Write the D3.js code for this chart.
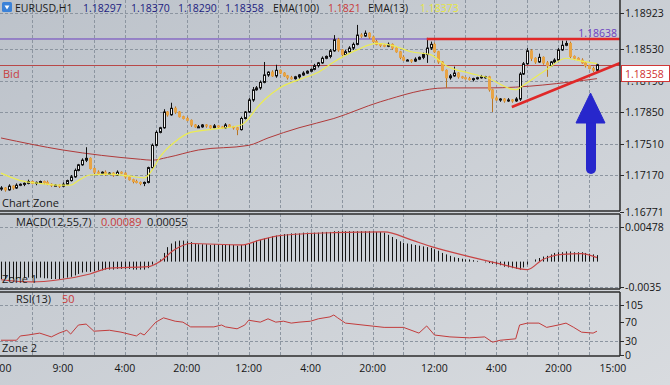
<!DOCTYPE html>
<html>
<head>
<meta charset="utf-8">
<script src="https://cdn.jsdelivr.net/npm/d3@7"></script>
<style>
html, body { margin: 0; padding: 0; background: #c8ccd2; }
svg { display: block; font-family: "Open Sans", "Noto Sans", sans-serif; }
</style>
</head>
<body>
<div id="chart"></div>
<script>
// ---- datos (EURUSD H1) ----
const firstOpen = 1.1702
const closes = [
  1.1703,1.1701,1.1705,1.1703,1.1706,1.1707,1.1708,1.1710,1.1708,1.1709,
  1.1710,1.1709,1.1707,1.1706,1.1706,1.1705,1.1707,1.1711,1.1715,1.1722,
  1.1728,1.1733,1.1735,1.1724,1.1720,1.1719,1.1720,1.1718,1.1719,1.1717,
  1.1720,1.1719,1.1715,1.1712,1.1710,1.1709,1.1708,1.1709,1.1725,1.1749,
  1.1763,1.1768,1.1785,1.1782,1.1789,1.1785,1.1780,1.1778,1.1776,1.1771,
  1.1769,1.1769,1.1771,1.1770,1.1768,1.1770,1.1769,1.1768,1.1771,1.1769,
  1.1768,1.1766,1.1778,1.1785,1.1798,1.1809,1.1811,1.1817,1.1825,1.1828,
  1.1824,1.1830,1.1827,1.1824,1.1822,1.1821,1.1823,1.1825,1.1827,1.1829,
  1.1831,1.1835,1.1838,1.1843,1.1845,1.1851,1.1863,1.1852,1.1847,1.1850,
  1.1854,1.1858,1.1868,1.1867,1.1870,1.1866,1.1861,1.1858,1.1857,1.1856,
  1.1858,1.1854,1.1850,1.1844,1.1841,1.1841,1.1840,1.1842,1.1844,1.1847,
  1.1854,1.1858,1.1850,1.1839,1.1830,1.1822,1.1824,1.1827,1.1823,1.1822,
  1.1821,1.1820,1.1821,1.1822,1.1823,1.1823,1.1809,1.1800,1.1798,1.1799,
  1.1797,1.1798,1.1797,1.1799,1.1826,1.1837,1.1851,1.1843,1.1839,1.1844,
  1.1838,1.1835,1.1839,1.1841,1.1852,1.1857,1.1859,1.1845,1.1843,1.1841,
  1.1838,1.1835,1.1832,1.1830,1.1836
]
// mechas en pips por encima / debajo del cuerpo
const wickUp = [
  2,1,2,1,2,1,1,2,1,1, 1,1,2,1,1,1,2,1,2,2, 1,2,12,1,1,2,1,2,1,1, 2,1,1,1,1,2,1,1,1,2,
  2,1,3,1,6,2,1,1,2,1, 1,2,1,1,1,2,1,1,2,1, 1,1,2,1,2,3,2,2,14,1, 2,6,1,1,1,2,1,1,2,1,
  1,2,1,2,1,2,5,2,1,2, 2,2,11,2,3,1,1,2,1,1, 2,1,1,1,2,1,1,2,1,2, 11,3,2,1,1,1,2,7,1,1,
  1,2,1,1,2,1,1,1,2,1, 1,2,1,2,2,2,3,2,1,4, 1,2,1,2,2,5,3,2,1,1, 2,1,1,2,1
]
const wickDn = [
  2,2,1,2,1,1,2,1,1,2, 1,2,1,2,1,2,1,1,1,1, 1,1,2,1,2,1,1,2,1,2, 1,1,2,1,2,1,2,3,1,1,
  1,1,1,2,1,2,1,1,1,2, 1,1,1,2,1,1,2,1,1,1, 2,6,1,1,1,2,1,2,1,2, 1,2,1,1,2,1,1,2,1,1,
  1,1,2,1,1,2,1,2,2,1, 1,2,1,2,1,2,1,1,2,1, 1,2,1,2,1,1,2,1,1,2, 9,2,1,2,1,11,2,1,2,1,
  1,1,2,1,1,2,2,15,1,2, 2,1,2,1,2,1,1,3,2,1, 2,12,1,2,1,1,1,2,2,1, 1,2,1,2,1
]
const ema100Bar = [0,16,36,39,43,51,64,69,77,86,98,115,126,154]
const ema100Val = [1.1757,1.1744,1.1734,1.1733,1.1736,1.1744,1.1749,1.1757,1.1768,1.1778,1.1796,1.1811,1.1811,1.1821]
const ema13Bar = [0,5,10,15,18,20,23,28,33,37,39,41,45,49,54,62,64,66,68,72,77,82,86,92,97,101,106,111,115,121,125,133,135,141,146,150,154]
const ema13Val = [1.1719,1.1711,1.1708,1.1706,1.1706,1.1711,1.1717,1.1718,1.1716,1.1714,1.1722,1.1736,1.1753,1.1763,1.1766,1.1771,1.1778,1.1789,1.1798,1.1811,1.1820,1.1828,1.1839,1.1852,1.1859,1.1857,1.1850,1.1847,1.1835,1.1827,1.1823,1.1809,1.1814,1.1831,1.1843,1.1840,1.18373]

const macdHist = [
  -0.0024,-0.0024,-0.0025,-0.0024,-0.0024,-0.0023,-0.0023,-0.0022,-0.0023,-0.0023,
  -0.0022,-0.0023,-0.0023,-0.0024,-0.0024,-0.0024,-0.0023,-0.0022,-0.0021,-0.0019,
  -0.0017,-0.0015,-0.0014,-0.0014,-0.0013,-0.0012,-0.0012,-0.0011,-0.0011,-0.0011,
  -0.0010,-0.0010,-0.0010,-0.0010,-0.0011,-0.0011,-0.0011,-0.0011,-0.0009,-0.0004,
  0.0000,0.0003,0.0012,0.0020,0.0025,0.0028,0.0029,0.0029,0.0028,0.0027,
  0.0025,0.0024,0.0024,0.0024,0.0023,0.0024,0.0024,0.0023,0.0023,0.0024,
  0.0023,0.0022,0.0023,0.0024,0.0025,0.0027,0.0029,0.0030,0.0032,0.0033,
  0.0035,0.0036,0.0037,0.0038,0.0038,0.0039,0.0039,0.0039,0.0040,0.0040,
  0.0040,0.0040,0.0040,0.0041,0.0041,0.0041,0.0042,0.0042,0.0042,0.0042,
  0.0042,0.0042,0.0042,0.0042,0.0042,0.0042,0.0042,0.0041,0.0041,0.0040,
  0.0037,0.0034,0.0031,0.0028,0.0026,0.0025,0.0024,0.0023,0.0022,0.0021,
  0.0020,0.0019,0.0017,0.0015,0.0012,0.0010,0.0008,0.0006,0.0005,0.0004,
  0.0003,0.0003,0.0002,0.0001,0.0000,-0.0001,-0.0002,-0.0003,-0.0004,-0.0005,
  -0.0007,-0.0008,-0.0009,-0.0010,-0.0011,-0.0008,-0.0004,0.0000,0.0003,0.0005,
  0.0007,0.0008,0.0010,0.0012,0.0013,0.0013,0.0014,0.0014,0.0013,0.0013,
  0.0013,0.0012,0.0011,0.0010,0.0009
]
const signalBar = [0,8,15,23,28,38,41,45,49,62,67,72,86,99,106,111,121,129,136,140,145,150,154]
const signalVal = [-0.0025,-0.0028,-0.0025,-0.0017,-0.0009,-0.0007,0,0.0017,0.0025,0.0023,0.0030,0.0036,0.0040,0.0041,0.0030,0.0021,0.0007,-0.0003,-0.0011,0.0003,0.0010,0.0011,0.00055]

const rsiBar = [0,4,5,7,10,13,15,17,18,20,22,24,28,31,35,36,37,40,42,45,47,49,55,57,58,61,63,64,67,69,71,73,75,77,80,82,85,86,87,89,99,104,108,110,112,116,121,125,127,129,133,134,136,139,141,144,146,148,150,153,154]
const rsiVal = [31,31,40,42,46,38,46,52,44,63,65,50,52,48,40,46,42,69,78,71,69,59,59,63,59,55,63,73,69,76,69,71,67,69,71,76,80,84,78,67,58,58,46,61,42,38,36,38,27,31,34,63,67,67,58,63,67,58,48,46,50]

const priceTicks = [1.18923, 1.18530, 1.18190, 1.17850, 1.17510, 1.17170, 1.16771]
const macdTicks = [0.00478, -0.0035]
const rsiTicks = [105, 70, 30, 0]
const timeBars = [0,16,32,48,64,80,96,112,128,144,160]
const timeLabels = ["0:00","9:00","4:00","20:00","12:00","4:00","20:00","12:00","4:00","20:00","15:00"]

const lineaResistencia = 1.18638
const precioBid = 1.18358
const tendencia = [[132, 1.17904], [160, 1.18379]]

// ---- tamaño y escalas ----
const ancho = 670
const alto = 385
const bordeDer = 620

const x = d3.scaleLinear().domain([0, 160]).range([1, 620.2])
const yMain = d3.scaleLinear().domain([1.16771, 1.18530]).range([212, 49])
const yMacd = d3.scaleLinear().domain([-0.0035, 0.00478]).range([287, 227])
const yRsi = d3.scaleLinear().domain([0, 105]).range([355, 305])

const panel = {
  main: {top: 0, bottom: 211},
  macd: {top: 214, bottom: 289},
  rsi: {top: 292, bottom: 356}
}

const svg = d3.select("#chart").append("svg").attr("width", ancho).attr("height", alto)

const defs = svg.append("defs")
const grad = defs.append("linearGradient").attr("id", "fondo").attr("x1", 0).attr("y1", 0).attr("x2", 1).attr("y2", 1)
grad.append("stop").attr("offset", "0%").attr("stop-color", "#bcc2ca")
grad.append("stop").attr("offset", "100%").attr("stop-color", "#d8dbdf")
svg.append("rect").attr("width", ancho).attr("height", alto).attr("fill", "url(#fondo)")

Object.entries(panel).forEach(([k, p]) => {
  defs.append("clipPath").attr("id", "clip-" + k)
    .append("rect").attr("x", 0).attr("y", p.top).attr("width", bordeDer).attr("height", p.bottom - p.top)
})

// rejilla
const rejilla = svg.append("g").attr("stroke", "#8c95a0").attr("stroke-width", 1).attr("stroke-dasharray", "3,2")
const vLines = d3.range(8, 160, 8)
Object.values(panel).forEach(p => {
  rejilla.selectAll(null).data(vLines).enter().append("line")
    .attr("x1", d => Math.round(x(d)) + 0.5).attr("x2", d => Math.round(x(d)) + 0.5)
    .attr("y1", p.top).attr("y2", p.bottom)
})
rejilla.selectAll(null).data(priceTicks.slice(0, 6)).enter().append("line")
  .attr("x1", 0).attr("x2", bordeDer)
  .attr("y1", d => Math.round(yMain(d)) + 0.5).attr("y2", d => Math.round(yMain(d)) + 0.5)
rejilla.selectAll(null).data(macdTicks).enter().append("line")
  .attr("x1", 0).attr("x2", bordeDer)
  .attr("y1", d => Math.round(yMacd(d)) + 0.5).attr("y2", d => Math.round(yMacd(d)) + 0.5)
rejilla.selectAll(null).data([105, 30]).enter().append("line")
  .attr("x1", 0).attr("x2", bordeDer)
  .attr("y1", d => Math.round(yRsi(d)) + 0.5).attr("y2", d => Math.round(yRsi(d)) + 0.5)

// ---- panel principal ----
const gMain = svg.append("g").attr("clip-path", "url(#clip-main)")

gMain.append("line").attr("x1", 0).attr("x2", bordeDer)
  .attr("y1", yMain(lineaResistencia)).attr("y2", yMain(lineaResistencia))
  .attr("stroke", "#6b3fc0").attr("stroke-width", 1)
gMain.append("line").attr("x1", 0).attr("x2", bordeDer)
  .attr("y1", Math.round(yMain(precioBid)) + 0.5).attr("y2", Math.round(yMain(precioBid)) + 0.5)
  .attr("stroke", "#b84848").attr("stroke-width", 1)

const lineaEma = (bars, vals) => d3.line().curve(d3.curveMonotoneX)
  .x((d, i) => x(bars[i])).y(d => yMain(d))(vals)

gMain.append("path").attr("d", lineaEma(ema100Bar, ema100Val))
  .attr("fill", "none").attr("stroke", "#b03a3a").attr("stroke-width", 1)

const velas = closes.map((c, i) => {
  const o = i === 0 ? firstOpen : closes[i - 1]
  return {
    i: i, o: o, c: c,
    h: Math.max(o, c) + wickUp[i] * 0.0001,
    l: Math.min(o, c) - wickDn[i] * 0.0001
  }
})

const gVelas = gMain.append("g")
velas.forEach(d => {
  const cx = Math.round(x(d.i))
  const alcista = d.c >= d.o
  gVelas.append("line")
    .attr("x1", cx + 0.5).attr("x2", cx + 0.5)
    .attr("y1", yMain(d.h)).attr("y2", yMain(d.l))
    .attr("stroke", alcista ? "#111" : "#b87524").attr("stroke-width", 1)
  const yTop = yMain(Math.max(d.o, d.c))
  const hCuerpo = Math.max(1, Math.abs(yMain(d.o) - yMain(d.c)))
  if (alcista) {
    gVelas.append("rect")
      .attr("x", cx - 0.5).attr("y", yTop).attr("width", 2).attr("height", hCuerpo)
      .attr("fill", "#f2f2f2").attr("stroke", "#111").attr("stroke-width", 1)
  } else {
    gVelas.append("rect")
      .attr("x", cx - 1).attr("y", yTop - 0.5).attr("width", 3).attr("height", hCuerpo + 1)
      .attr("fill", "#e8a445").attr("stroke", "none")
  }
})

gMain.append("path").attr("d", lineaEma(ema13Bar, ema13Val))
  .attr("fill", "none").attr("stroke", "#ecec52").attr("stroke-width", 1.2)

// lineas dibujadas a mano
gMain.append("line").attr("x1", x(110)).attr("x2", bordeDer)
  .attr("y1", yMain(lineaResistencia)).attr("y2", yMain(lineaResistencia))
  .attr("stroke", "#e02828").attr("stroke-width", 2.5)
gMain.append("line")
  .attr("x1", x(tendencia[0][0])).attr("y1", yMain(tendencia[0][1]))
  .attr("x2", x(tendencia[1][0])).attr("y2", yMain(tendencia[1][1]))
  .attr("stroke", "#e02828").attr("stroke-width", 2.5)

// flecha azul
const flecha = gMain.append("g").attr("fill", "#2727cc").attr("stroke", "#2727cc")
flecha.append("line").attr("x1", 591).attr("x2", 591).attr("y1", 118).attr("y2", 169)
  .attr("stroke-width", 10).attr("stroke-linecap", "round")
flecha.append("path").attr("d", "M576,123 L605,123 L590.5,93 Z").attr("stroke-width", 1)

// ---- MACD ----
const gMacd = svg.append("g").attr("clip-path", "url(#clip-macd)")
gMacd.selectAll("line").data(macdHist).enter().append("line")
  .attr("x1", (d, i) => Math.round(x(i)) + 0.5).attr("x2", (d, i) => Math.round(x(i)) + 0.5)
  .attr("y1", yMacd(0)).attr("y2", d => yMacd(d))
  .attr("stroke", "#151515").attr("stroke-width", 1)
gMacd.append("path")
  .attr("d", d3.line().curve(d3.curveMonotoneX).x((d, i) => x(signalBar[i])).y(d => yMacd(d))(signalVal))
  .attr("fill", "none").attr("stroke", "#c84444").attr("stroke-width", 1.2)

// ---- RSI ----
const gRsi = svg.append("g").attr("clip-path", "url(#clip-rsi)")
gRsi.append("path")
  .attr("d", d3.line().x((d, i) => x(rsiBar[i])).y(d => yRsi(d))(rsiVal))
  .attr("fill", "none").attr("stroke", "#c23c3c").attr("stroke-width", 1)

// ---- bordes ----
const bordes = svg.append("g").attr("stroke", "#2b2b2b").attr("stroke-width", 1.5).attr("fill", "none")
Object.values(panel).forEach(p => {
  bordes.append("line").attr("x1", 0).attr("x2", bordeDer).attr("y1", p.bottom).attr("y2", p.bottom)
  bordes.append("line").attr("x1", bordeDer).attr("x2", bordeDer).attr("y1", p.top).attr("y2", p.bottom)
  if (p.top > 0) bordes.append("line").attr("x1", 0).attr("x2", bordeDer).attr("y1", p.top).attr("y2", p.top)
})

// ---- ejes derechos ----
const ejeTexto = svg.append("g").attr("font-size", "10.5px").attr("fill", "#151515")
function etiquetasEje(ticks, escala, fmt) {
  ticks.forEach(t => {
    const yy = Math.round(escala(t)) + 0.5
    svg.append("line").attr("x1", bordeDer).attr("x2", bordeDer + 4).attr("y1", yy).attr("y2", yy)
      .attr("stroke", "#2b2b2b").attr("stroke-width", 1)
    ejeTexto.append("text").attr("x", bordeDer + 5).attr("y", yy).attr("dy", "0.35em").text(fmt(t))
  })
}
etiquetasEje(priceTicks, yMain, d => d.toFixed(5))
etiquetasEje(macdTicks, yMacd, d => d < 0 ? d.toFixed(4) : d.toFixed(5))
etiquetasEje(rsiTicks, yRsi, d => String(d))

// etiqueta bid
svg.append("rect").attr("x", 621.5).attr("y", 65.5).attr("width", 48).attr("height", 16)
  .attr("fill", "#ffffff").attr("stroke", "#d03838").attr("stroke-width", 1)
svg.append("text").attr("x", 625).attr("y", 74).attr("dy", "0.35em")
  .attr("font-size", "10.5px").attr("fill", "#d03030").text(precioBid.toFixed(5))

// eje de tiempo
timeBars.forEach((b, i) => {
  const ultimo = i === timeBars.length - 1
  svg.append("text")
    .attr("x", ultimo ? x(b) + 6 : x(b)).attr("y", 368).attr("dy", "0.35em")
    .attr("text-anchor", ultimo ? "end" : "middle")
    .attr("font-size", "10.5px").attr("fill", "#151515").text(timeLabels[i])
})

// ---- textos ----
const cabecera = svg.append("g").attr("font-size", "10.5px")
cabecera.append("rect").attr("x", 2).attr("y", 2).attr("width", 10).attr("height", 10).attr("rx", 1.5).attr("fill", "#3b82d8")
cabecera.append("path").attr("d", "M4.5,5.5 L9.5,5.5 L7,9.5 Z").attr("fill", "#ffffff")
const cabTextos = [
  {x: 15, t: "EURUSD,H1", c: "#1a1a1a"},
  {x: 83, t: "1.18297", c: "#1c1c80"},
  {x: 131, t: "1.18370", c: "#1c1c80"},
  {x: 178, t: "1.18290", c: "#1c1c80"},
  {x: 225, t: "1.18358", c: "#1c1c80"},
  {x: 273, t: "EMA(100)", c: "#1a1a1a"},
  {x: 328, t: "1.1821", c: "#c83a3a"},
  {x: 368, t: "EMA(13)", c: "#1a1a1a"},
  {x: 420, t: "1.18373", c: "#e6e640"}
]
cabecera.selectAll("text").data(cabTextos).enter().append("text")
  .attr("x", d => d.x).attr("y", 12).attr("fill", d => d.c).text(d => d.t)

svg.append("text").attr("x", 617).attr("y", 37).attr("text-anchor", "end")
  .attr("font-size", "10.5px").attr("fill", "#6b3fc0").text(lineaResistencia.toFixed(5))
svg.append("text").attr("x", 3).attr("y", 78).attr("font-size", "11px").attr("fill", "#c84040").text("Bid")
svg.append("text").attr("x", 2).attr("y", 207).attr("font-size", "11px").attr("fill", "#1a1a1a").text("Chart Zone")

svg.append("text").attr("x", 16).attr("y", 226).attr("font-size", "11px").attr("fill", "#1a1a1a").text("MACD(12,55,7)")
svg.append("text").attr("x", 101).attr("y", 226).attr("font-size", "11px").attr("fill", "#c83a3a").text("0.00089")
svg.append("text").attr("x", 147).attr("y", 226).attr("font-size", "11px").attr("fill", "#1a1a1a").text("0.00055")
svg.append("text").attr("x", 2).attr("y", 283).attr("font-size", "11px").attr("fill", "#1a1a1a").text("Zone 1")

svg.append("text").attr("x", 16).attr("y", 303).attr("font-size", "11px").attr("fill", "#1a1a1a").text("RSI(13)")
svg.append("text").attr("x", 62).attr("y", 303).attr("font-size", "11px").attr("fill", "#c83a3a").text("50")
svg.append("text").attr("x", 2).attr("y", 352).attr("font-size", "11px").attr("fill", "#1a1a1a").text("Zone 2")
</script>
</body>
</html>
